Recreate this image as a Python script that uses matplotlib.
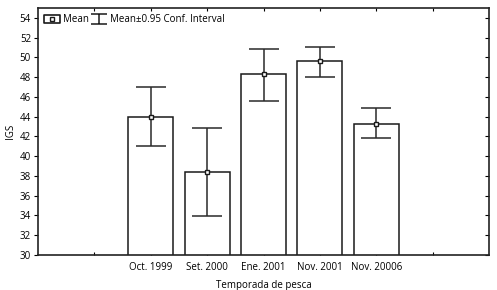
import matplotlib
matplotlib.use('Agg')
import matplotlib.pyplot as plt
from matplotlib.lines import Line2D
from matplotlib.path import Path

plt.rcParams['font.family'] = ['Open Sans', 'DejaVu Sans']

# data
labels = ['', 'Oct. 1999', 'Set. 2000', 'Ene. 2001', 'Nov. 2001', 'Nov. 20006', '']
means = [44.0, 38.4, 48.3, 49.6, 43.3]
ci_low = [41.0, 33.9, 45.6, 48.0, 41.8]
ci_high = [47.0, 42.9, 50.9, 51.1, 44.9]

fig = plt.figure(figsize=(4.97, 2.90), dpi=100)
ax = fig.add_axes([38 / 497, 35 / 290, 451 / 497, 247 / 290])

pos = list(range(1, 1 + len(means)))
ax.bar(pos, means, width=0.8, bottom=0, color='white', edgecolor='#1a1a1a', linewidth=1.1, zorder=2)
yerr = [[m - lo for m, lo in zip(means, ci_low)], [hi - m for m, hi in zip(means, ci_high)]]
ax.errorbar(pos, means, yerr=yerr, fmt='none', ecolor='#2a2a2a', elinewidth=1.1,
            capsize=11, capthick=1.1, zorder=3)
ax.plot(pos, means, ls='none', marker='s', ms=3.2, mfc='white', mec='#1a1a1a', mew=1.0, zorder=4)

ax.set_xlim(-1, 7)
ax.set_ylim(30, 55)
ax.set_xticks(range(len(labels)))
ax.set_xticklabels(labels, fontsize=7)
ax.set_yticks(range(30, 55, 2))
ax.tick_params(axis='y', labelsize=7, length=3, width=0.8, direction='out', pad=2)
ax.tick_params(axis='x', length=2, width=0.8, direction='in', pad=5)
ax.tick_params(top=True, right=True, which='both')
for t in ax.yaxis.get_ticklines()[1::2]:
    t.set_marker(0)
for s in ax.spines.values():
    s.set_linewidth(1.2)
    s.set_color('#222222')

ax.set_xlabel('Temporada de pesca', fontsize=7, labelpad=5)
ax.set_ylabel('IGS', fontsize=7, labelpad=3)

# legend handles: wide box with dot, and an "I" shaped interval symbol
box = Path([(-0.9, -0.5), (0.9, -0.5), (0.9, 0.5), (-0.9, 0.5), (-0.9, -0.5)],
           [Path.MOVETO, Path.LINETO, Path.LINETO, Path.LINETO, Path.CLOSEPOLY])
sq_out = Line2D([], [], ls='none', marker=box, ms=11, mfc='white', mec='#1a1a1a', mew=1.2)
sq_in = Line2D([], [], ls='none', marker='s', ms=2.5, mfc='white', mec='#1a1a1a', mew=1.0)
ibeam = Path([(-1.6, 1), (1.6, 1), (0, 1), (0, -1), (-1.6, -1), (1.6, -1)],
             [Path.MOVETO, Path.LINETO, Path.MOVETO, Path.LINETO, Path.MOVETO, Path.LINETO])
h2 = Line2D([], [], ls='none', marker=ibeam, ms=11.5, mec='#1a1a1a', mew=1.1)
ax.legend([(sq_out, sq_in), h2], ['Mean', 'Mean\u00b10.95 Conf. Interval'], loc='upper left',
          frameon=False, fontsize=7, handlelength=1.6, handletextpad=0.35, columnspacing=0.2,
          ncol=2, borderaxespad=0.3, borderpad=0.35)

fig.savefig('out.png', dpi=100)
